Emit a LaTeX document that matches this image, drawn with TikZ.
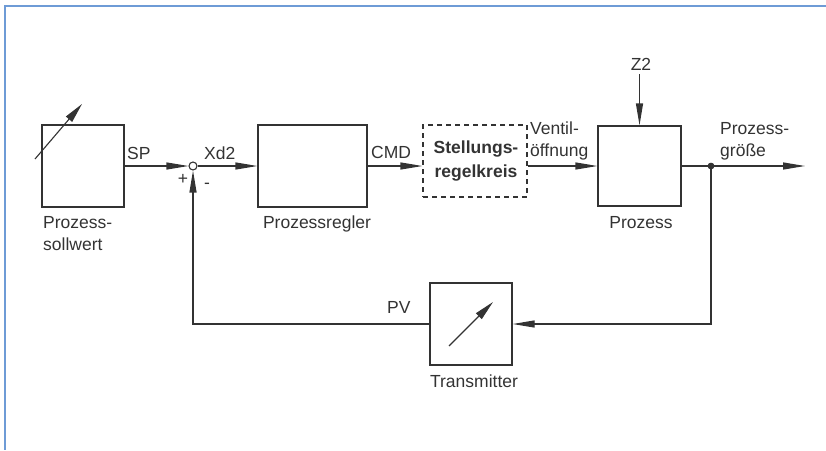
\documentclass[tikz,border=0pt]{standalone}
\usepackage{fontspec}
\setmainfont{Liberation Sans}
\usetikzlibrary{arrows.meta,calc}
\definecolor{ink}{HTML}{333333}
\definecolor{framecol}{HTML}{6E9BD6}
\begin{document}
\begin{tikzpicture}[x=1pt,y=-1pt,
  font=\fontsize{17.5}{22.5}\selectfont,
  box/.style={draw=ink,line width=1.2pt,inner sep=0pt,fill=white},
  lbl/.style={inner sep=0pt,text=ink},
  sig/.style={draw=ink,line width=1.2pt},
  arr/.style={sig,-{Triangle[length=22pt,width=7pt]}},
  diag/.style={draw=ink,line width=1.1pt,-{Triangle[length=20pt,width=8pt]}},
  two/.style={lbl,anchor=base west}]
\useasboundingbox (0,0) rectangle (826,450);
\draw[framecol,line width=2pt] (826,6) -- (5,6) -- (5,450);

% blocks
\node[box,minimum width=82pt,minimum height=82pt] (sw) at (83,166) {};
\node[draw=ink,line width=1.1pt,circle,fill=white,inner sep=0pt,minimum size=8pt] (sum) at (193,166) {};
\node[box,minimum width=109pt,minimum height=82pt] (pr) at (312.5,166) {};
\node[draw=ink,line width=1.2pt,dash pattern=on 5pt off 4pt,inner sep=0pt,minimum width=104pt,minimum height=72pt] (st) at (475,161) {};
\node[box,minimum width=83pt,minimum height=80pt] (pz) at (639.5,166) {};
\node[box,minimum width=82pt,minimum height=82pt] (tr) at (471,324) {};
\node[circle,fill=ink,inner sep=0pt,minimum size=6.5pt] (j) at (711,166) {};
\coordinate (out) at (805,166);
\coordinate (z2s) at (639.5,74);

% connectors
\draw[arr] (sw.east) -- (sum.west);
\draw[arr] (sum.east) -- (pr.west);
\draw[arr] (pr.east) -- (pr.east -| st.west);
\draw[arr] (pr.east -| st.east) -- (pz.west);
\draw[arr] (pz.east) -- (out);
\draw[arr] (j.center) |- (tr.east);
\draw[arr] (tr.west) -| (sum.south);
\draw[arr] (z2s) -- (pz.north);
\node[circle,fill=ink,inner sep=0pt,minimum size=6.5pt] at (j) {};

% adjustable arrows in boxes
\draw[diag] ($(sw.center)+(-48,-7)$) -- ($(sw.center)+(-1,-62)$);
\draw[diag] ($(tr.center)+(-22,22)$) -- ($(tr.center)+(22,-22)$);

% labels
\node[lbl,anchor=base west] (lsp) at (127,159) {SP};
\node[lbl,anchor=base west] (lxd) at (204,159) {Xd2};
\node[lbl,anchor=base west] (lcmd) at (371,158) {CMD};
\node[lbl,anchor=base west] (lpv) at (387,313) {PV};
\node[lbl,anchor=base] (lz2) at (641,70) {Z2};
\node[lbl] (lplus) at (183,179) {+};
\node[lbl] (lminus) at (207,186) {-};
\node[lbl,anchor=base] (lpz) at (641,228) {Prozess};
\node[lbl,anchor=base] (lpr) at (317,228) {Prozessregler};
\node[lbl,anchor=base] (ltr) at (474,387) {Transmitter};
\node[two] (lsw) at (43,228) {\begin{tabular}[t]{@{}l@{}}Prozess-\\sollwert\end{tabular}};
\node[two] (lvo) at (530,134) {\begin{tabular}[t]{@{}l@{}}Ventil-\\öffnung\end{tabular}};
\node[two] (lpg) at (720,134) {\begin{tabular}[t]{@{}l@{}}Prozess-\\größe\end{tabular}};
\node[lbl,anchor=base,font=\fontsize{17.5}{24}\selectfont\bfseries] (lst) at (476,153) {\begin{tabular}[t]{@{}c@{}}Stellungs-\\regelkreis\end{tabular}};
\end{tikzpicture}
\end{document}
